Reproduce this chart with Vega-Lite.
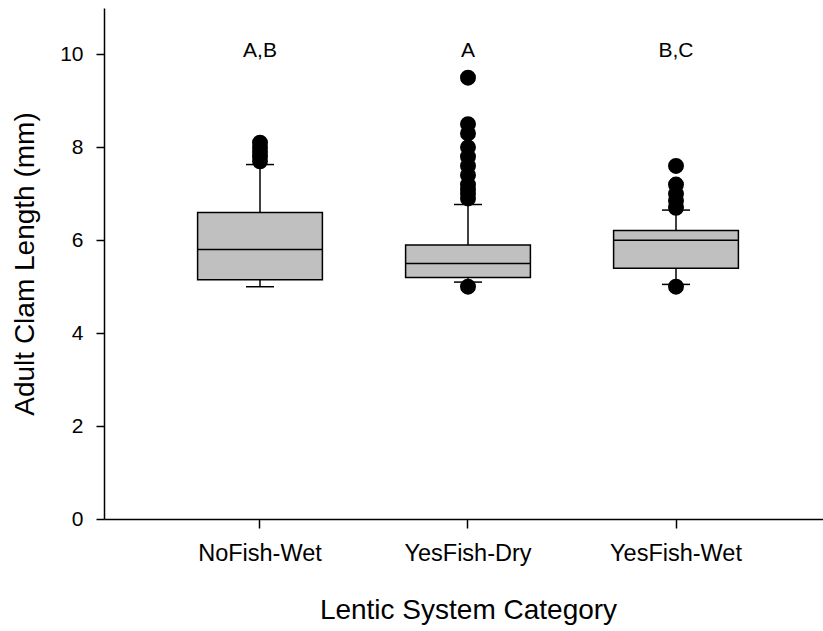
{
  "$schema": "https://vega.github.io/schema/vega-lite/v6.json",
  "width": 719,
  "height": 511,
  "autosize": {"type": "none"},
  "padding": {"left": 104, "top": 8, "right": 0, "bottom": 112},
  "background": "white",
  "config": {"view": {"stroke": null}, "font": "Liberation Sans"},
  "datasets": {
    "stats": [
      {"cat": "NoFish-Wet", "lo": 5.0, "q1": 5.15, "med": 5.8, "q3": 6.6, "hi": 7.63, "label": "A,B", "ly": 9.94},
      {"cat": "YesFish-Dry", "lo": 5.1, "q1": 5.2, "med": 5.5, "q3": 5.9, "hi": 6.77, "label": "A", "ly": 9.94},
      {"cat": "YesFish-Wet", "lo": 5.05, "q1": 5.4, "med": 6.0, "q3": 6.21, "hi": 6.65, "label": "B,C", "ly": 9.94}
    ],
    "outliers": [
      {"cat": "NoFish-Wet", "v": 8.1},
      {"cat": "NoFish-Wet", "v": 8.0},
      {"cat": "NoFish-Wet", "v": 7.9},
      {"cat": "NoFish-Wet", "v": 7.8},
      {"cat": "NoFish-Wet", "v": 7.7},
      {"cat": "YesFish-Dry", "v": 9.5},
      {"cat": "YesFish-Dry", "v": 8.5},
      {"cat": "YesFish-Dry", "v": 8.3},
      {"cat": "YesFish-Dry", "v": 8.0},
      {"cat": "YesFish-Dry", "v": 7.8},
      {"cat": "YesFish-Dry", "v": 7.6},
      {"cat": "YesFish-Dry", "v": 7.4},
      {"cat": "YesFish-Dry", "v": 7.2},
      {"cat": "YesFish-Dry", "v": 7.1},
      {"cat": "YesFish-Dry", "v": 7.0},
      {"cat": "YesFish-Dry", "v": 6.9},
      {"cat": "YesFish-Dry", "v": 5.0},
      {"cat": "YesFish-Wet", "v": 7.6},
      {"cat": "YesFish-Wet", "v": 7.2},
      {"cat": "YesFish-Wet", "v": 7.0},
      {"cat": "YesFish-Wet", "v": 6.85},
      {"cat": "YesFish-Wet", "v": 6.7},
      {"cat": "YesFish-Wet", "v": 5.0}
    ]
  },
  "layer": [
    {
      "data": {"name": "stats"},
      "mark": {"type": "rule", "color": "black", "strokeWidth": 1.5},
      "encoding": {
        "x": {
          "field": "cat", "type": "nominal",
          "sort": ["NoFish-Wet", "YesFish-Dry", "YesFish-Wet"],
          "scale": {"type": "band", "range": [0, 728], "paddingInner": 0.4, "paddingOuter": 0.45},
          "axis": {
            "title": "Lentic System Category",
            "labelAngle": 0,
            "grid": false,
            "domainColor": "black", "domainWidth": 1.5,
            "tickColor": "black", "tickWidth": 1.5, "tickSize": 9,
            "labelFontSize": 23.5, "labelPadding": 13, "labelColor": "black",
            "titleFontSize": 28, "titleFontWeight": "normal", "titleColor": "black",
            "titleY": 99, "titleBaseline": "alphabetic"
          }
        },
        "y": {
          "field": "lo", "type": "quantitative", "title": "Adult Clam Length (mm)",
          "scale": {"domain": [0, 11], "nice": false, "zero": true},
          "axis": {
            "values": [0, 2, 4, 6, 8, 10],
            "grid": false,
            "domainColor": "black", "domainWidth": 1.5,
            "tickColor": "black", "tickWidth": 1.5, "tickSize": 8,
            "labelFontSize": 21, "labelPadding": 13, "labelColor": "black",
            "titleFontSize": 28, "titleFontWeight": "normal", "titleColor": "black",
            "titleX": -71, "titleBaseline": "alphabetic"
          }
        },
        "y2": {"field": "hi"}
      }
    },
    {
      "data": {"name": "stats"},
      "mark": {"type": "bar", "fill": "#c0c0c0", "stroke": "black", "strokeWidth": 1.5},
      "encoding": {
        "x": {"field": "cat", "type": "nominal", "sort": ["NoFish-Wet", "YesFish-Dry", "YesFish-Wet"]},
        "y": {"field": "q1", "type": "quantitative", "title": "Adult Clam Length (mm)"},
        "y2": {"field": "q3"}
      }
    },
    {
      "data": {"name": "stats"},
      "mark": {"type": "tick", "color": "black", "size": 125, "thickness": 1.5, "opacity": 1},
      "encoding": {
        "x": {"field": "cat", "type": "nominal", "sort": ["NoFish-Wet", "YesFish-Dry", "YesFish-Wet"]},
        "y": {"field": "med", "type": "quantitative", "title": "Adult Clam Length (mm)"}
      }
    },
    {
      "data": {"name": "stats"},
      "mark": {"type": "tick", "color": "black", "size": 28, "thickness": 1.5, "opacity": 1},
      "encoding": {
        "x": {"field": "cat", "type": "nominal", "sort": ["NoFish-Wet", "YesFish-Dry", "YesFish-Wet"]},
        "y": {"field": "lo", "type": "quantitative", "title": "Adult Clam Length (mm)"}
      }
    },
    {
      "data": {"name": "stats"},
      "mark": {"type": "tick", "color": "black", "size": 28, "thickness": 1.5, "opacity": 1},
      "encoding": {
        "x": {"field": "cat", "type": "nominal", "sort": ["NoFish-Wet", "YesFish-Dry", "YesFish-Wet"]},
        "y": {"field": "hi", "type": "quantitative", "title": "Adult Clam Length (mm)"}
      }
    },
    {
      "data": {"name": "outliers"},
      "mark": {"type": "circle", "color": "black", "size": 254, "opacity": 1},
      "encoding": {
        "x": {"field": "cat", "type": "nominal", "sort": ["NoFish-Wet", "YesFish-Dry", "YesFish-Wet"]},
        "y": {"field": "v", "type": "quantitative", "title": "Adult Clam Length (mm)"}
      }
    },
    {
      "data": {"name": "stats"},
      "mark": {"type": "text", "color": "black", "fontSize": 21, "baseline": "alphabetic", "align": "center"},
      "encoding": {
        "x": {"field": "cat", "type": "nominal", "sort": ["NoFish-Wet", "YesFish-Dry", "YesFish-Wet"]},
        "y": {"field": "ly", "type": "quantitative", "title": "Adult Clam Length (mm)"},
        "text": {"field": "label"}
      }
    }
  ]
}
